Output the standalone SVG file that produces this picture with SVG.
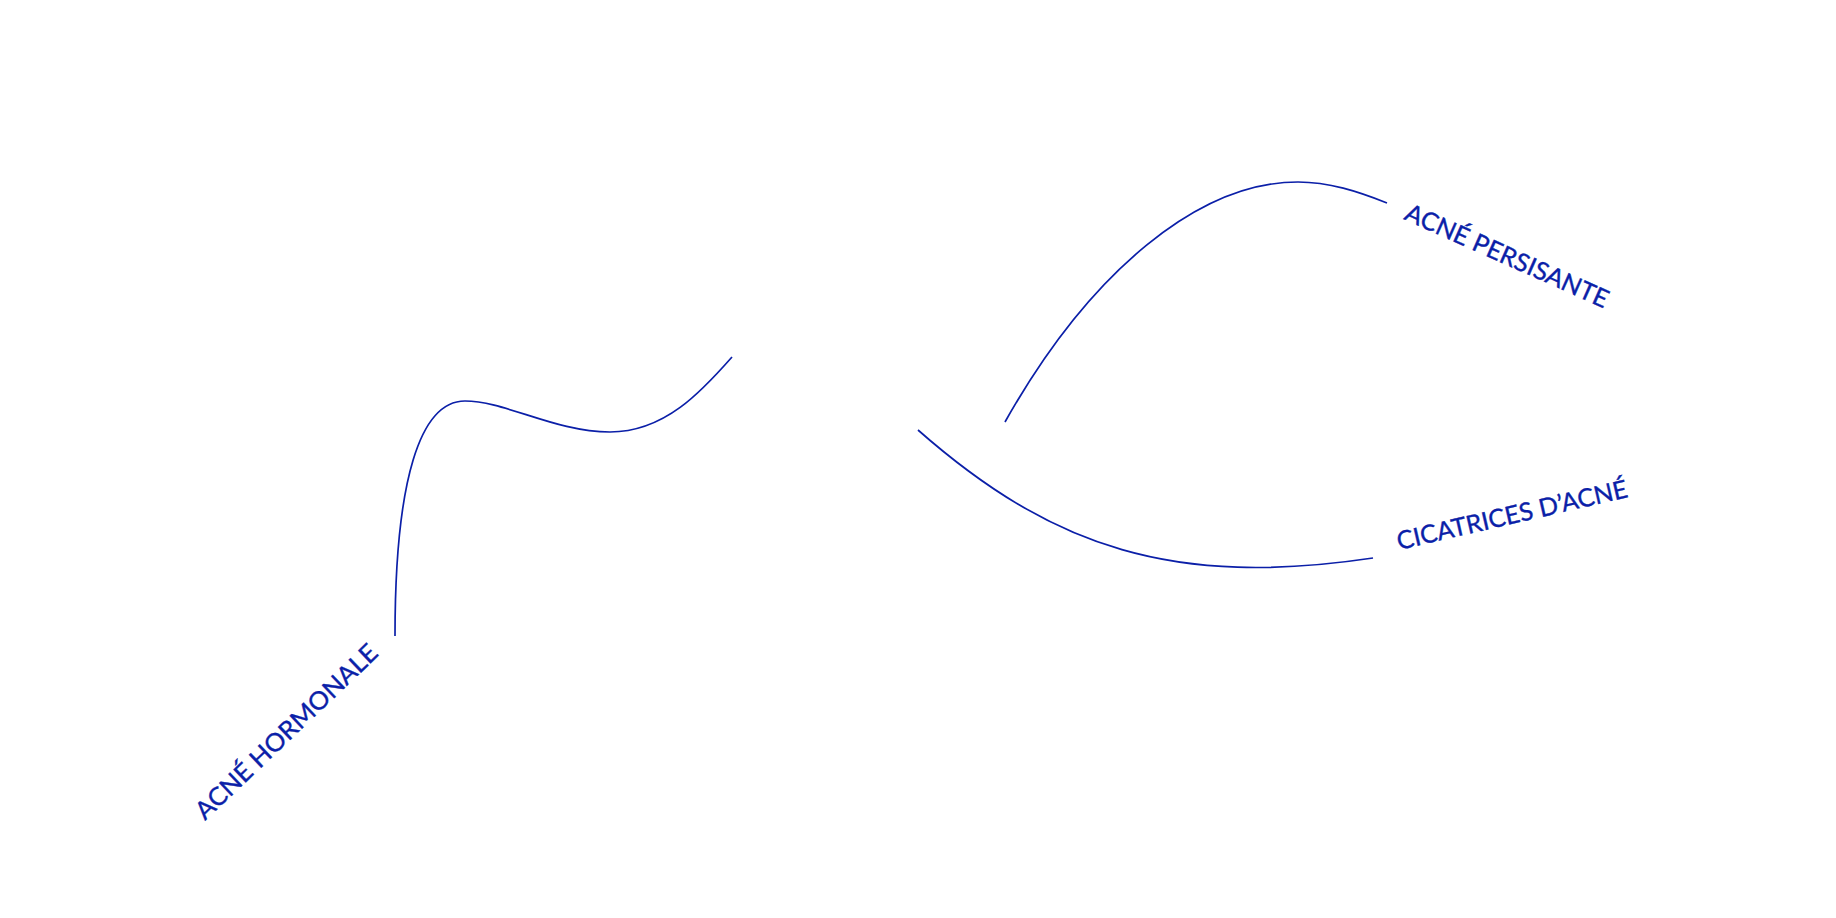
<svg xmlns="http://www.w3.org/2000/svg" width="1836" height="918" viewBox="0 0 1836 918">
<style>
.link{fill:none;stroke:#0b1fa8;stroke-width:1.7;stroke-linecap:butt}
.lbl{font-family:Lato,"Noto Sans","Liberation Sans",sans-serif;font-size:25px;fill:#0b1fa8;stroke:#0b1fa8;stroke-width:0.35}
</style>
<rect width="1836" height="918" fill="#ffffff"/>
<g id="connectors">
<path class="link" d="M1005,422 C1090.75,269.75 1200,182 1298,182 C1329,182 1358,191.5 1387,203"/>
<path class="link" d="M918,430 C1053,548.8 1175.2,587.6 1373,558"/>
<path class="link" d="M395,636 C395,480 420,401 465,401 C505,401 555,432 610,432 C665,432 702.3,390.75 732,357"/>
</g>
<g id="node-acne-persisante">
<text class="lbl" transform="translate(1403,219) rotate(24)" textLength="220" lengthAdjust="spacingAndGlyphs">ACNÉ PERSISANTE</text>
</g>
<g id="node-cicatrices">
<text class="lbl" transform="translate(1399,550) rotate(-13)" textLength="236" lengthAdjust="spacingAndGlyphs">CICATRICES D’ACNÉ</text>
</g>
<g id="node-acne-hormonale">
<text class="lbl" transform="translate(205,821) rotate(-43.6)" textLength="241" lengthAdjust="spacingAndGlyphs">ACNÉ HORMONALE</text>
</g>
</svg>
